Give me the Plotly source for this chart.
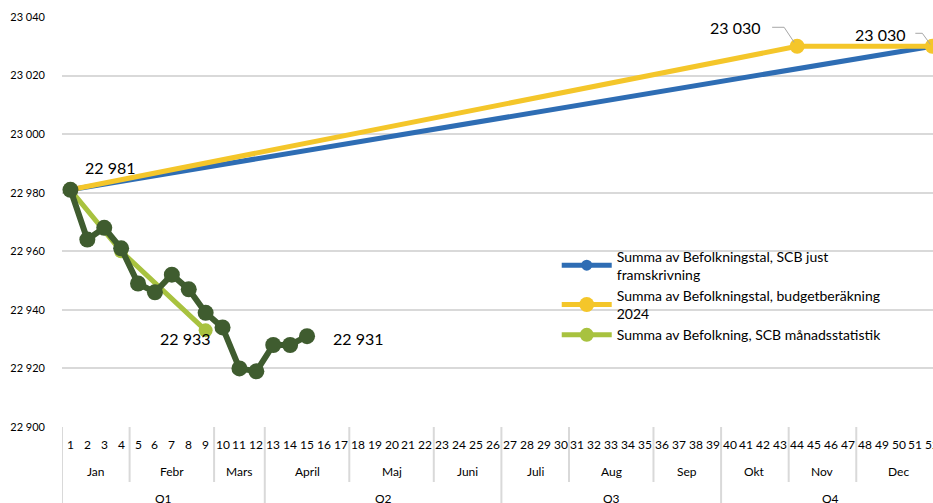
import plotly.graph_objects as go

# ---------------- data ----------------
weeks = list(range(1, 53))
week_labels = [str(w) for w in weeks]
months = ["Jan", "Febr", "Mars", "April", "Maj", "Juni", "Juli", "Aug", "Sep", "Okt", "Nov", "Dec"]
month_first_week = [1, 5, 10, 13, 18, 23, 27, 31, 36, 40, 44, 48]
month_last_week = [4, 9, 12, 17, 22, 26, 30, 35, 39, 43, 47, 52]
quarters = ["Q1", "Q2", "Q3", "Q4"]
quarter_first_week = [1, 13, 27, 40]
quarter_last_week = [12, 26, 39, 52]

scb_weeks = [1, 52]
scb_values = [22981, 23030]
budget_weeks = [1, 44, 52]
budget_values = [22981, 23030, 23030]
monthly_weeks = [1, 4, 9]
monthly_values = [22981, 22960, 22933]
weekly_weeks = [1, 2, 3, 4, 5, 6, 7, 8, 9, 10, 11, 12, 13, 14, 15]
weekly_values = [22981, 22964, 22968, 22961, 22949, 22946, 22952, 22947, 22939,
                 22934, 22920, 22919, 22928, 22928, 22931]

names = [
    "Summa av Befolkningstal, SCB just<br>framskrivning",
    "Summa av Befolkningstal, budgetberäkning<br>2024",
    "Summa av Befolkning, SCB månadsstatistik",
]

BLUE = "#2E6DB4"
YELLOW = "#F4C62A"
LGREEN = "#A8C23F"
DGREEN = "#3F5C2F"
GRID = "#D9D9D9"
FONT = "Lato"

def fmt(v):
    return f"{v:,}".replace(",", " ")

fig = go.Figure()
fig.add_trace(go.Scatter(x=scb_weeks, y=scb_values, name=names[0], mode="lines+markers",
                         line=dict(color=BLUE, width=5), marker=dict(size=11, color=BLUE),
                         cliponaxis=False))
fig.add_trace(go.Scatter(x=budget_weeks, y=budget_values, name=names[1], mode="lines+markers",
                         line=dict(color=YELLOW, width=5), marker=dict(size=15, color=YELLOW),
                         cliponaxis=False))
fig.add_trace(go.Scatter(x=monthly_weeks, y=monthly_values, name=names[2], mode="lines+markers",
                         line=dict(color=LGREEN, width=5), marker=dict(size=14, color=LGREEN),
                         cliponaxis=False))
fig.add_trace(go.Scatter(x=weekly_weeks, y=weekly_values, name="Vecka", mode="lines+markers",
                         line=dict(color=DGREEN, width=6), marker=dict(size=16, color=DGREEN),
                         showlegend=False, cliponaxis=False))

annotations = []
shapes = []

PX_PER_UNIT_Y = 410 / 140
PX_PER_WEEK = 871 / 51.54

labels = [
    (weekly_weeks[0], weekly_values[0], 40, 22),
    (monthly_weeks[-1], monthly_values[-1], -20, -8),
    (weekly_weeks[-1], weekly_values[-1], 51, -2),
    (budget_weeks[1], budget_values[1], -62, 19),
    (budget_weeks[2], budget_values[2], -52, 12),
]
for x, y, dx, dy in labels:
    annotations.append(dict(x=x, y=y, xref="x", yref="y", text=fmt(y), showarrow=False,
                            xshift=dx, yshift=dy, font=dict(family=FONT, size=16, color="#000000")))

# leader lines for the 23 030 labels (pixel offsets from the point)
leaders = [
    (budget_weeks[1], budget_values[1], [(-25, 19), (-13, 19), (-3, 4)]),
    (budget_weeks[2], budget_values[2], [(-17, 13), (-10, 13), (-2, 2)]),
]
for x, y, pts in leaders:
    path = ""
    for i, (dx, dy) in enumerate(pts):
        px = x + dx / PX_PER_WEEK
        pyv = y + dy / PX_PER_UNIT_Y
        path += ("M" if i == 0 else "L") + f"{px},{pyv} "
    shapes.append(dict(type="path", path=path.strip(), xref="x", yref="y",
                       line=dict(color="#A6A6A6", width=1)))

# category axis table
def py(px):
    return (427 - px) / 410

for w, lab in zip(weeks, week_labels):
    annotations.append(dict(x=w, y=py(444), xref="x", yref="paper", text=lab, showarrow=False,
                            font=dict(family=FONT, size=12, color="#000000"), yanchor="middle"))
for m, a, b in zip(months, month_first_week, month_last_week):
    annotations.append(dict(x=(a + b) / 2, y=py(471), xref="x", yref="paper", text=m, showarrow=False,
                            font=dict(family=FONT, size=12, color="#000000"), yanchor="middle"))
    if b not in quarter_last_week:
        shapes.append(dict(type="line", xref="x", yref="paper", x0=b + 0.5, x1=b + 0.5,
                           y0=0, y1=py(482), line=dict(color=GRID, width=2)))
for q, a, b in zip(quarters, quarter_first_week, quarter_last_week):
    annotations.append(dict(x=(a + b) / 2, y=py(498), xref="x", yref="paper", text=q, showarrow=False,
                            font=dict(family=FONT, size=12, color="#000000"), yanchor="middle"))
    shapes.append(dict(type="line", xref="x", yref="paper", x0=b + 0.5, x1=b + 0.5,
                       y0=0, y1=py(510), line=dict(color=GRID, width=2)))
shapes.append(dict(type="line", xref="x", yref="paper", x0=0.5, x1=0.5,
                   y0=0, y1=py(510), line=dict(color=GRID, width=2)))

fig.update_layout(
    width=933, height=503,
    margin=dict(l=62, r=0, t=17, b=76, autoexpand=False),
    paper_bgcolor="white", plot_bgcolor="white",
    separators=", ",
    font=dict(family=FONT, color="#000000"),
    xaxis=dict(range=[0.5, 0.5 + 51.54], showticklabels=False, showgrid=False, zeroline=False,
               showline=False, ticks="", automargin=False),
    yaxis=dict(range=[22900, 23040], dtick=20, tickformat=",d", showgrid=True, gridcolor=GRID,
               gridwidth=2, zeroline=False, showline=False, ticks="", ticklabelstandoff=16,
               automargin=False, tickfont=dict(family=FONT, size=11, color="#000000")),
    legend=dict(x=0.568, y=0.455, xanchor="left", yanchor="top", bgcolor="rgba(0,0,0,0)",
                font=dict(family=FONT, size=14, color="#000000"), tracegroupgap=0, itemwidth=50),
    annotations=annotations,
    shapes=shapes,
    showlegend=True,
)

fig.write_html("out.html", config={"displayModeBar": False},
               post_script="document.body.style.margin='0';document.body.style.overflow='hidden';")
